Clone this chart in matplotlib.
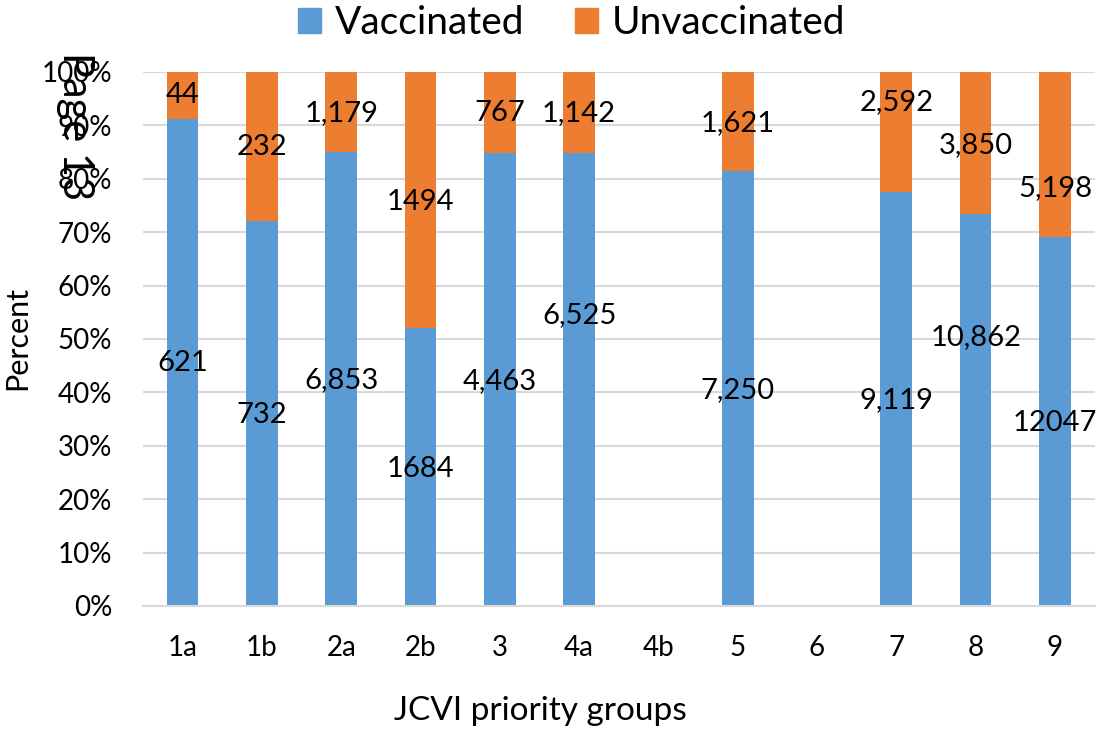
import numpy as np
import matplotlib
matplotlib.use("Agg")
import matplotlib.pyplot as plt
from matplotlib.patches import Patch

# =========================
# データ
# =========================
groups = ["1a", "1b", "2a", "2b", "3", "4a", "4b", "5", "6", "7", "8", "9"]
vacc_pct = [91.1, 72.0, 85.1, 52.0, 84.9, 84.9, 0, 81.4, 0, 77.5, 73.4, 69.0]
unvacc_pct = [8.9, 28.0, 14.9, 48.0, 15.1, 15.1, 0, 18.6, 0, 22.5, 26.6, 31.0]
vacc_labels = ["621", "732", "6,853", "1684", "4,463", "6,525", "", "7,250", "", "9,119", "10,862", "12047"]
unvacc_labels = ["44", "232", "1,179", "1494", "767", "1,142", "", "1,621", "", "2,592", "3,850", "5,198"]

# ラベルの縦位置（元図の手動配置, %）
vacc_label_y = [45.5, 35.8, 42.3, 25.7, 42.1, 54.5, 0, 40.4, 0, 38.6, 50.3, 34.2]
unvacc_label_y = [95.7, 85.9, 92.3, 75.7, 92.3, 92.3, 0, 90.4, 0, 94.4, 86.3, 78.2]

BLUE = "#5B9BD5"
ORANGE = "#ED7D31"

plt.rcParams["font.family"] = ["Lato", "DejaVu Sans"]

fig = plt.figure(figsize=(10.99, 7.34), dpi=100)
ax = fig.add_axes([0.130, 0.1744, 0.866, 0.7276])

x = np.arange(len(groups))
ax.bar(x, vacc_pct, width=0.4, color=BLUE, zorder=2)
ax.bar(x, unvacc_pct, width=0.4, bottom=vacc_pct, color=ORANGE, zorder=2)

for i in range(len(groups)):
    if vacc_labels[i]:
        ax.text(x[i], vacc_label_y[i], vacc_labels[i], ha="center", va="center",
                fontsize=21, zorder=3)
    if unvacc_labels[i]:
        ax.text(x[i], unvacc_label_y[i], unvacc_labels[i], ha="center", va="center",
                fontsize=21, zorder=3)

ax.set_xlim(-0.5, len(groups) - 0.5)
ax.set_ylim(0, 100)
ax.set_yticks(np.arange(0, 101, 10))
ax.set_yticklabels([f"{v}%" for v in range(0, 101, 10)], fontsize=20)
ax.set_xticks(x)
ax.set_xticklabels(groups, fontsize=20)
ax.tick_params(axis="y", length=0, pad=22)
ax.tick_params(axis="x", length=0, pad=21)
ax.yaxis.grid(True, color="#D9D9D9", linewidth=1.5, zorder=0)
ax.set_axisbelow(True)
for s in ["top", "right", "left"]:
    ax.spines[s].set_visible(False)
ax.spines["bottom"].set_color("#D9D9D9")
ax.spines["bottom"].set_linewidth(1.5)

# 軸ラベル（元図では左寄り）
fig.text(0.492, 0.019, "JCVI priority groups", ha="center", va="baseline", fontsize=24)
fig.text(0.0155, 0.54, "Percent", rotation=90, ha="center", va="center", fontsize=22)

handles = [Patch(color=BLUE, label="Vaccinated"), Patch(color=ORANGE, label="Unvaccinated")]
fig.legend(handles=handles, loc="center", bbox_to_anchor=(0.52, 0.968), ncol=2,
           frameon=False, fontsize=28, handlelength=0.6, handleheight=0.6,
           handletextpad=0.35, columnspacing=1.3)

# 元図に重なっているページ番号
fig.text(0.068, 0.828, "Page 13", rotation=-90, ha="center", va="center", fontsize=30)

fig.savefig("out.png", dpi=100)
